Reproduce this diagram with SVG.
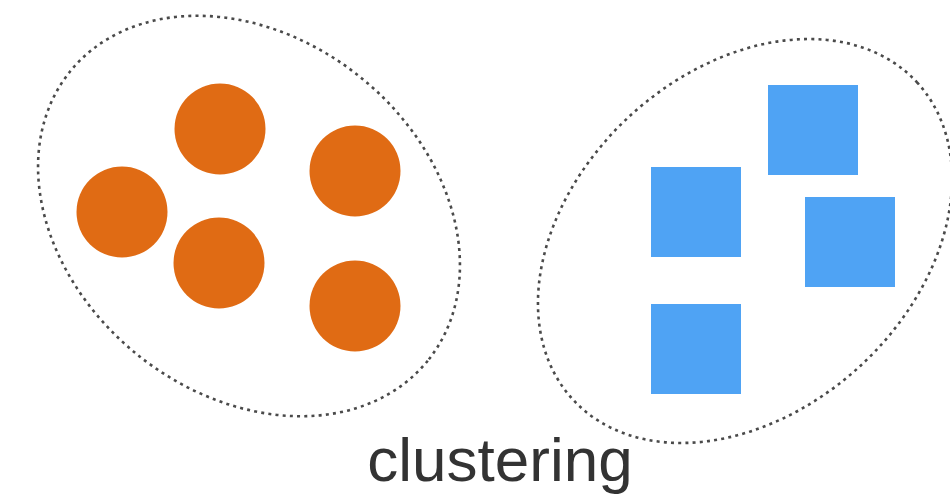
<svg xmlns="http://www.w3.org/2000/svg" width="950" height="494" viewBox="0 0 950 494">
  <style>
    .boundary { fill: none; stroke: #4a4a4a; stroke-width: 2.6; stroke-dasharray: 3 4.2; }
    .dot { fill: #E06B14; }
    .sq { fill: #4FA3F4; }
    .label { font-family: "Liberation Sans", Arial, sans-serif; font-size: 62px; fill: #333333; }
  </style>
  <rect width="950" height="494" fill="#ffffff"/>
  <g id="cluster-circles">
    <ellipse class="boundary" cx="249" cy="216" rx="230" ry="178" transform="rotate(39 249 216)"/>
    <g id="circle-1"><circle class="dot" cx="220" cy="129" r="45.5"/></g>
    <g id="circle-2"><circle class="dot" cx="355" cy="171" r="45.5"/></g>
    <g id="circle-3"><circle class="dot" cx="122" cy="212" r="45.5"/></g>
    <g id="circle-4"><circle class="dot" cx="219" cy="263" r="45.5"/></g>
    <g id="circle-5"><circle class="dot" cx="355" cy="306" r="45.5"/></g>
  </g>
  <g id="cluster-squares">
    <ellipse class="boundary" cx="745" cy="241" rx="234" ry="170" transform="rotate(-42.7 745 241)"/>
    <g id="square-1"><rect class="sq" x="768" y="85" width="90" height="90"/></g>
    <g id="square-2"><rect class="sq" x="651" y="167" width="90" height="90"/></g>
    <g id="square-3"><rect class="sq" x="805" y="197" width="90" height="90"/></g>
    <g id="square-4"><rect class="sq" x="651" y="304" width="90" height="90"/></g>
  </g>
  <g id="connectors"></g>
  <text class="label" x="500" y="481" text-anchor="middle">clustering</text>
</svg>
